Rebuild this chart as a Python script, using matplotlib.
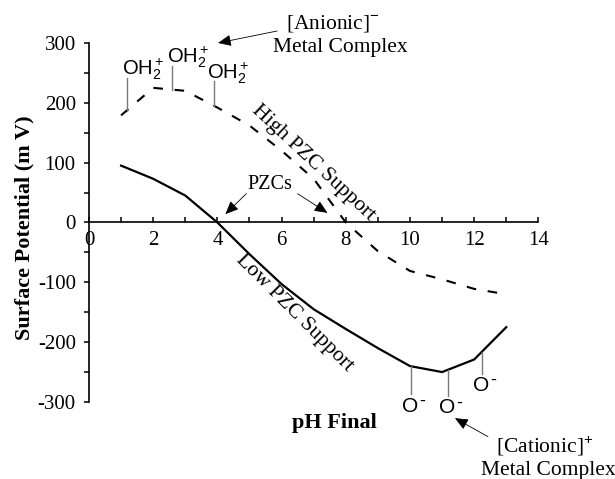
import numpy as np
import matplotlib
matplotlib.use("Agg")
import matplotlib.pyplot as plt
from matplotlib.ticker import MultipleLocator

plt.rcParams["mathtext.fontset"] = "custom"
plt.rcParams["mathtext.rm"] = "Liberation Sans"
plt.rcParams["mathtext.it"] = "Liberation Sans:italic"
plt.rcParams["mathtext.bf"] = "Liberation Sans:bold"
plt.rcParams["axes.unicode_minus"] = False

SERIF = "Liberation Serif"
SANS = "Liberation Sans"

# Surface potential versus final pH for two oxide supports
ph = [1, 2, 3, 4, 5, 6, 7, 8, 9, 10, 11, 12, 13]
low_pzc = [95, 73, 45, 0, -53, -103, -145, -178, -210, -240, -250, -229, -175]
high_pzc = [179, 225, 220, 192, 162, 120, 73, 0, -48, -81, -95, -111, -120]

# protonated surface groups on the high-PZC curve (pH, stick top)
oh_ph = [1.17, 2.58, 3.9]
oh_top = [242, 262, 237]
# deprotonated surface groups on the low-PZC curve (pH, stick bottom)
o_ph = [10.02, 11.17, 12.23]
o_bottom = [-287, -290, -253]

fig = plt.figure(figsize=(6.15, 4.79), dpi=100)
ax = fig.add_axes([0.1447, 0.1608, 0.7307, 0.7495])

ax.plot(ph, low_pzc, color="black", lw=1.6, solid_joinstyle="miter")
ax.plot(ph, high_pzc, color="black", lw=1.5, linestyle=(0, (4.6, 5.6)))

ax.set_xlim(0, 14)
ax.set_ylim(-300, 300)
ax.spines["top"].set_visible(False)
ax.spines["right"].set_visible(False)
ax.spines["bottom"].set_position(("data", 0))
ax.spines["left"].set_linewidth(1.2)
ax.spines["bottom"].set_linewidth(1.2)

ax.xaxis.set_major_locator(MultipleLocator(2))
ax.xaxis.set_minor_locator(MultipleLocator(1))
ax.yaxis.set_major_locator(MultipleLocator(100))
ax.yaxis.set_minor_locator(MultipleLocator(50))
ax.tick_params(axis="x", which="both", direction="in", length=3.5, width=1.1,
               pad=6, labelsize=15)
ax.tick_params(axis="y", which="both", direction="out", length=3.5, width=1.1,
               pad=6, labelsize=15)
for lab in ax.get_xticklabels() + ax.get_yticklabels():
    lab.set_family(SERIF)

fig.text(24 / 615, 1 - 228 / 479, "Surface Potential (m V)", rotation=90,
         ha="center", va="center", family=SERIF, fontweight="bold", fontsize=16)
ax.text(7.66, -335, "pH Final", ha="center", va="center", family=SERIF,
        fontweight="bold", fontsize=16)

# surface-group sticks
oh_base = np.interp(oh_ph, ph, high_pzc)
for x, y0, y1 in zip(oh_ph, oh_base, oh_top):
    ax.plot([x, x], [y0, y1], color="#7a7a7a", lw=1.0)
o_base = np.interp(o_ph, ph, low_pzc)
for x, y0, y1 in zip(o_ph, o_base, o_bottom):
    ax.plot([x, x], [y0, y1], color="#7a7a7a", lw=1.0)

oh_pos = [(1.03, 248), (2.42, 267), (3.67, 240)]
for x, y in oh_pos:
    ax.text(x, y, r"OH$_2^+$", family=SANS, fontsize=14.5, ha="left",
            va="baseline")
for x, y in zip(o_ph, o_bottom):
    ax.text(x, y - 4, "O", family=SANS, fontsize=15, ha="center", va="top")
    ax.annotate("-", xy=(x, y - 4), xytext=(6, -6.5),
                textcoords="offset points", family=SANS, fontsize=13,
                ha="left", va="baseline")

arrow = dict(arrowstyle="-|>,head_length=0.8,head_width=0.35", color="black",
             lw=0.6, shrinkA=0, shrinkB=0)

ax.text(7.6, 332, r"[Anionic]$^{-}$", ha="center", va="center", family=SERIF,
        fontsize=15.5, clip_on=False)
ax.text(7.82, 292, "Metal Complex", ha="center", va="center", family=SERIF,
        fontsize=15.5, clip_on=False)
ax.annotate("", xy=(4.02, 300), xytext=(5.86, 320), arrowprops=arrow,
            annotation_clip=False)

ax.text(5.64, 64, "PZCs", ha="center", va="center", family=SERIF, fontsize=14.5)
ax.annotate("", xy=(4.25, 14), xytext=(4.9, 48), arrowprops=arrow)
ax.annotate("", xy=(7.43, 16), xytext=(6.5, 48), arrowprops=arrow)

ax.text(7.0, 99, "High PZC Support", rotation=-43, ha="center", va="center",
        family=SERIF, fontsize=15.5, rotation_mode="anchor")
ax.text(6.39, -151, "Low PZC Support", rotation=-45, ha="center", va="center",
        family=SERIF, fontsize=15.5, rotation_mode="anchor")

ax.text(14.2, -373, r"[Cationic]$^{+}$", ha="center", va="center",
        family=SERIF, fontsize=15.5, clip_on=False)
ax.text(14.3, -414, "Metal Complex", ha="center", va="center", family=SERIF,
        fontsize=15.5, clip_on=False)
ax.annotate("", xy=(11.4, -327), xytext=(12.43, -358), arrowprops=arrow,
            annotation_clip=False)

fig.savefig("out.png", dpi=100)
